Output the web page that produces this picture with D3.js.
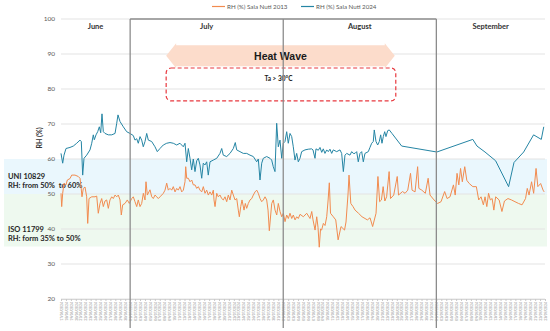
<!DOCTYPE html>
<html>
<head>
<meta charset="utf-8">
<style>
  body { margin: 0; background: #fff; }
  svg { display: block; font-family: Lato, "Open Sans", sans-serif; }
</style>
</head>
<body>
<svg width="550" height="331"></svg>
<script src="https://d3js.org/d3.v7.min.js"></script>
<script>

// period shown on the x axis
var START = new Date(2024, 5, 17),
    END = new Date(2024, 8, 23);

var months = ["June", "July", "August", "September"];
var monthStarts = [new Date(2024, 5, 17), new Date(2024, 6, 1), new Date(2024, 7, 1), new Date(2024, 8, 1), new Date(2024, 8, 23)];

var yTicks = [20, 30, 40, 50, 60, 70, 80, 90, 100];

var seriesNames = ["RH (%) Sala Nuti 2013", "RH (%) Sala Nuti 2024"];

// days elapsed since 17/06 and relative humidity, 2013
var days2013 = [0.00, 0.14, 0.34, 0.61, 1.01, 1.28, 1.82, 2.17, 2.84, 3.50, 3.85, 4.05, 4.25, 4.52, 4.86, 5.20, 5.41, 5.67, 6.22, 6.89,
  7.23, 7.55, 7.90, 8.24, 8.57, 8.91, 9.25, 9.58, 9.92, 10.27, 10.59, 10.94, 11.28, 11.60, 11.95, 12.21, 12.49, 12.96, 13.43, 13.83,
  14.32, 14.64, 14.98, 15.33, 15.65, 16.00, 16.34, 16.67, 17.01, 17.21, 17.48, 18.02, 18.37, 18.69, 19.04, 19.38, 19.70, 20.05, 20.39, 20.72,
  21.06, 21.40, 21.73, 22.07, 22.42, 22.74, 23.09, 23.43, 23.75, 24.10, 24.44, 24.77, 25.11, 25.25, 25.45, 25.78, 26.12, 26.47, 26.79, 27.14,
  27.48, 27.80, 28.15, 28.49, 28.82, 29.16, 29.50, 29.83, 30.17, 30.52, 30.84, 30.98, 31.19, 31.53, 31.85, 32.20, 32.54, 32.87, 33.21, 33.55,
  33.88, 34.22, 34.57, 34.89, 35.24, 35.58, 35.90, 36.11, 36.39, 36.65, 37.06, 37.32, 37.60, 37.93, 38.27, 38.62, 38.94, 39.29, 39.63, 39.95,
  40.30, 40.64, 40.97, 41.31, 41.65, 41.92, 42.18, 42.46, 42.67, 42.99, 43.34, 43.68, 44.00, 44.35, 44.69, 45.02, 45.36, 45.70, 46.03, 46.37,
  46.72, 47.04, 47.39, 47.73, 48.05, 48.40, 49.07, 49.75, 50.42, 50.77, 51.03, 51.44, 51.78, 52.04, 52.29, 52.55, 52.77, 53.12, 53.46, 53.80,
  54.07, 54.33, 54.57, 55.14, 55.63, 56.11, 56.70, 57.41, 57.71, 58.12, 58.32, 58.68, 59.13, 59.54, 60.24, 60.95, 61.56, 62.03, 62.57, 63.10,
  63.79, 64.17, 64.52, 64.88, 65.23, 65.57, 65.93, 66.44, 66.72, 67.37, 68.08, 68.34, 69.15, 69.66, 70.21, 70.77, 71.08, 71.69, 72.21, 72.46,
  73.06, 73.77, 74.34, 74.72, 75.53, 76.26, 76.95, 77.68, 78.17, 78.77, 79.46, 79.82, 80.19, 80.55, 80.90, 81.26, 81.75, 82.17, 82.66, 83.39,
  84.10, 84.58, 85.05, 85.52, 85.86, 86.22, 86.57, 86.93, 87.30, 87.64, 88.01, 88.71, 89.28, 89.79, 90.50, 91.21, 91.92, 92.64, 93.35, 94.06,
  94.41, 94.77, 95.28, 95.70, 96.19, 96.55, 97.12, 97.61, 97.83];
var rh2013 = [50.2, 46.4, 50.2, 53.1, 52.6, 54.0, 54.4, 55.4, 55.4, 55.0, 54.5, 52.2, 49.2, 51.6, 52.0, 49.2, 41.6, 48.7, 49.2, 49.2,
  49.4, 44.5, 47.3, 48.7, 46.4, 48.0, 48.3, 45.9, 48.3, 49.2, 48.7, 49.7, 49.2, 49.7, 48.3, 44.0, 46.9, 47.3, 48.3, 47.3,
  48.7, 49.2, 47.8, 46.4, 48.3, 46.4, 47.3, 50.2, 48.3, 53.5, 49.7, 51.2, 49.2, 48.7, 49.7, 49.2, 48.7, 49.2, 49.7, 50.2,
  51.1, 53.1, 51.1, 51.6, 51.1, 52.1, 50.6, 51.6, 51.1, 52.1, 50.6, 51.1, 53.5, 57.8, 54.5, 54.5, 53.5, 54.0, 52.6, 52.6,
  51.6, 52.1, 51.1, 50.6, 52.1, 50.2, 51.1, 49.7, 50.6, 49.7, 51.1, 48.3, 46.4, 50.2, 49.2, 49.7, 48.7, 48.3, 49.2, 47.8,
  49.7, 48.3, 51.1, 49.7, 48.3, 48.7, 45.4, 43.5, 46.4, 48.3, 45.4, 47.3, 45.9, 47.3, 48.3, 48.7, 49.7, 50.6, 51.1, 50.2,
  48.7, 47.8, 48.3, 49.2, 48.3, 45.4, 39.5, 44.0, 47.3, 48.3, 45.4, 44.0, 47.3, 45.0, 43.5, 44.5, 42.1, 44.0, 43.0, 44.5,
  43.0, 44.0, 42.6, 43.5, 43.0, 44.2, 43.5, 44.5, 43.0, 45.0, 42.6, 39.7, 43.5, 40.5, 34.8, 40.0, 39.7, 41.6, 41.0, 43.5,
  48.0, 53.2, 44.5, 43.5, 42.6, 36.9, 40.7, 39.7, 42.0, 50.0, 55.4, 47.3, 46.4, 45.4, 44.5, 43.5, 43.0, 42.6, 43.2, 40.7,
  44.5, 55.0, 47.8, 48.3, 52.1, 48.0, 49.2, 56.4, 48.7, 49.7, 55.0, 49.7, 50.7, 50.2, 51.1, 55.9, 51.1, 50.6, 57.8, 51.6,
  51.1, 50.2, 54.5, 49.7, 48.3, 47.3, 47.8, 50.7, 48.7, 49.2, 52.6, 49.7, 55.9, 52.6, 57.3, 53.5, 57.8, 53.9, 53.0, 52.1,
  52.1, 48.3, 49.2, 46.9, 49.2, 46.4, 50.2, 48.3, 48.7, 45.4, 49.2, 48.3, 45.0, 48.0, 48.7, 48.3, 47.8, 47.3, 46.9, 48.7,
  51.6, 49.7, 53.5, 50.2, 57.3, 52.1, 53.0, 51.1, 50.6];

// days elapsed since 17/06 and relative humidity, 2024
var days2024 = [0.00, 0.34, 0.61, 1.01, 1.82, 2.49, 3.18, 3.85, 4.11, 4.39, 4.66, 5.20, 5.87, 6.22, 6.54, 6.74, 7.09, 7.43, 7.76, 8.04,
  8.30, 8.57, 8.91, 9.58, 10.27, 10.94, 11.28, 11.54, 11.95, 12.62, 13.30, 13.97, 14.64, 14.98, 15.33, 15.65, 16.00, 16.34, 16.66, 17.01,
  17.35, 17.68, 18.36, 19.03, 19.50, 20.04, 20.71, 21.40, 22.07, 22.74, 23.43, 24.09, 24.76, 25.11, 25.45, 25.78, 26.12, 26.46, 26.79, 27.13,
  27.48, 27.80, 28.14, 28.49, 28.81, 29.16, 29.50, 29.82, 30.17, 30.84, 31.53, 32.19, 32.54, 32.86, 33.55, 34.22, 34.89, 35.29, 35.57, 36.24,
  36.91, 37.60, 38.27, 38.94, 39.62, 39.95, 40.29, 40.64, 40.96, 41.65, 42.32, 42.66, 42.98, 43.33, 43.67, 44.00, 44.34, 44.69, 45.01, 45.35,
  45.70, 46.02, 46.37, 46.71, 47.03, 47.38, 47.72, 48.05, 48.39, 48.73, 49.40, 50.07, 50.76, 51.02, 51.43, 51.63, 52.10, 52.44, 52.79, 53.11,
  53.45, 53.80, 54.12, 54.46, 54.81, 55.13, 55.82, 56.49, 56.83, 57.17, 57.50, 57.85, 58.51, 58.86, 59.18, 59.53, 59.87, 60.19, 60.54, 60.88,
  61.21, 61.55, 62.22, 62.56, 62.91, 63.23, 63.43, 63.78, 64.12, 64.45, 64.73, 64.99, 65.26, 65.54, 65.80, 66.15, 66.47, 67.02, 68.98, 76.10,
  83.38, 84.23, 85.85, 88.00, 90.63, 91.72, 93.68, 95.69, 97.25, 97.75];
var rh2024 = [61.6, 58.8, 61.1, 63.0, 63.3, 63.7, 64.5, 65.4, 65.0, 55.4, 60.2, 61.1, 62.6, 64.5, 66.9, 65.5, 66.9, 67.8, 69.2, 67.5,
  72.9, 67.8, 67.3, 66.9, 66.9, 67.3, 70.2, 72.6, 70.7, 69.2, 67.8, 67.3, 66.7, 65.4, 65.8, 64.5, 66.4, 65.4, 63.5, 65.0,
  67.3, 65.4, 65.0, 63.5, 62.1, 63.0, 64.0, 64.5, 64.7, 64.5, 64.0, 64.5, 63.5, 64.5, 59.2, 63.0, 60.2, 56.9, 60.0, 56.4,
  59.5, 60.2, 58.3, 54.5, 58.8, 58.3, 59.2, 55.4, 59.2, 59.7, 60.2, 61.6, 63.0, 61.1, 60.7, 61.6, 63.0, 64.7, 62.6, 62.1,
  61.6, 61.6, 61.1, 60.7, 59.2, 60.0, 54.0, 58.8, 60.2, 60.7, 60.2, 59.7, 57.8, 56.4, 70.2, 63.5, 65.4, 60.2, 64.5, 65.0,
  67.8, 64.5, 67.3, 66.4, 63.5, 59.7, 61.6, 59.2, 60.2, 62.1, 62.6, 62.8, 62.9, 62.6, 60.2, 62.9, 62.5, 63.3, 61.9, 62.9,
  61.6, 62.6, 62.1, 62.8, 61.6, 62.6, 62.1, 62.6, 61.6, 56.4, 61.1, 61.6, 61.1, 62.1, 61.6, 61.6, 62.1, 59.2, 61.6, 62.1,
  59.2, 61.6, 62.1, 63.3, 64.5, 65.0, 68.3, 65.0, 64.0, 65.0, 66.9, 64.5, 66.4, 67.8, 66.4, 68.1, 68.3, 67.3, 63.7, 62.0,
  65.6, 63.7, 62.0, 59.5, 52.1, 59.0, 62.0, 66.9, 65.6, 69.2];

// comfort ranges shown as bands
var bandNames = ["UNI 10829", "ISO 11799"];
var bandRanges = [[50, 60], [35, 50]];
var bandTexts = ["RH: from 50%  to 60%", "RH: form 35% to 50%"];

// heat wave period (Ta > 30°C)
var heatWave = [new Date(2024, 6, 8, 7), new Date(2024, 7, 23, 14)];

var svg = d3.select("svg");

var x = d3.scaleTime()
    .domain([START, END])
    .range([61, 545]);

var y = d3.scaleLinear()
    .domain([20, 100])
    .range([299, 19]);

function toDate(d) { return d3.timeMinute.offset(START, Math.round(d * 1440)); }

var data2013 = days2013.map(function(d, i) { return { date: toDate(d), v: rh2013[i] }; });
var data2024 = days2024.map(function(d, i) { return { date: toDate(d), v: rh2024[i] }; });

// bands
var bandColors = ["#eaf7fd", "#eef9ef"];
svg.append("g").selectAll("rect")
  .data(bandRanges)
  .enter().append("rect")
    .attr("x", 4)
    .attr("width", 543)
    .attr("y", function(d) { return y(d[1]); })
    .attr("height", function(d) { return y(d[0]) - y(d[1]); })
    .attr("fill", function(d, i) { return bandColors[i]; });

// grid
svg.append("g").selectAll("line")
  .data(yTicks)
  .enter().append("line")
    .attr("x1", 61).attr("x2", 545)
    .attr("y1", function(d) { return y(d); })
    .attr("y2", function(d) { return y(d); })
    .attr("stroke", "#e4e4e4")
    .attr("stroke-width", 1.2);

svg.append("g").selectAll("text")
  .data(yTicks)
  .enter().append("text")
    .attr("x", 55)
    .attr("y", function(d) { return y(d); })
    .attr("dy", "0.35em")
    .attr("text-anchor", "end")
    .attr("font-size", 6.5)
    .attr("fill", "#595959")
    .text(function(d) { return d; });

// x axis, one label per day
var xAxis = svg.append("g")
    .attr("transform", "translate(0," + y(20) + ")")
    .call(d3.axisBottom(x)
      .tickValues(d3.timeDay.range(START, d3.timeDay.offset(END, 1)))
      .tickSize(2)
      .tickFormat(d3.timeFormat("%d/%m/%Y")));
xAxis.select(".domain").attr("stroke", "#d6d6d6");
xAxis.selectAll(".tick line").attr("stroke", "#c8c8c8");
xAxis.selectAll(".tick text")
    .attr("font-family", "Lato, sans-serif")
    .attr("font-size", 3.4)
    .attr("fill", "#8c8c8c")
    .attr("text-anchor", "end")
    .attr("transform", "rotate(-90)")
    .attr("x", -3)
    .attr("y", 0)
    .attr("dy", "0.35em");

// band labels
bandNames.forEach(function(name, i) {
  var base = y(bandRanges[i][0]) - 6;
  svg.append("text")
      .attr("x", 8).attr("y", base - 9)
      .attr("font-size", 7.5).attr("font-weight", "bold").attr("fill", "#262626")
      .text(name);
  svg.append("text")
      .attr("x", 8).attr("y", base)
      .attr("font-size", 7.5).attr("font-weight", "bold").attr("fill", "#262626")
      .style("white-space", "pre")
      .text(bandTexts[i]);
});

// series
var line = d3.line()
    .x(function(d) { return x(d.date); })
    .y(function(d) { return y(d.v); });

var colors = ["#f28b4f", "#2585a4"];

svg.append("path")
    .datum(data2024)
    .attr("fill", "none")
    .attr("stroke", colors[1])
    .attr("stroke-width", 1)
    .attr("stroke-linejoin", "round")
    .attr("d", line);

svg.append("path")
    .datum(data2013)
    .attr("fill", "none")
    .attr("stroke", colors[0])
    .attr("stroke-width", 1)
    .attr("stroke-linejoin", "round")
    .attr("d", line);

// heat wave arrow
var hx0 = x(heatWave[0]), hx1 = x(heatWave[1]),
    arrTop = y(92.5), arrBot = y(86.5), arrMid = (arrTop + arrBot) / 2, head = 10;
svg.append("path")
    .attr("d", d3.line()([
      [hx0, arrMid], [hx0 + head, arrTop - 2], [hx0 + head, arrTop], [hx1 - head, arrTop], [hx1 - head, arrTop - 2],
      [hx1, arrMid], [hx1 - head, arrBot + 2], [hx1 - head, arrBot], [hx0 + head, arrBot], [hx0 + head, arrBot + 2]
    ]) + "Z")
    .attr("fill", "#fcdccb");

svg.append("text")
    .attr("x", (hx0 + hx1) / 2)
    .attr("y", arrMid + 4)
    .attr("text-anchor", "middle")
    .attr("font-family", "Liberation Sans, Arial, sans-serif")
    .attr("font-size", 10.5)
    .attr("font-weight", "bold")
    .attr("fill", "#1a1a1a")
    .text("Heat Wave");

svg.append("rect")
    .attr("x", hx0).attr("width", hx1 - hx0 + 1)
    .attr("y", y(86)).attr("height", y(76.6) - y(86))
    .attr("rx", 5)
    .attr("fill", "none")
    .attr("stroke", "#e8393f")
    .attr("stroke-width", 1.2)
    .attr("stroke-dasharray", "4 2.5");

svg.append("text")
    .attr("x", (hx0 + hx1) / 2 - 2)
    .attr("y", y(86) + 13)
    .attr("text-anchor", "middle")
    .attr("font-size", 6.5)
    .attr("font-weight", "bold")
    .attr("fill", "#1a1a1a")
    .text("Ta > 30°C");

// month frame
var xs = monthStarts.map(x);
svg.append("line")
    .attr("x1", xs[1]).attr("x2", xs[3])
    .attr("y1", y(100)).attr("y2", y(100))
    .attr("stroke", "#8c8c8c").attr("stroke-width", 1.3);
svg.append("g").selectAll("line")
  .data(xs.slice(1, 4))
  .enter().append("line")
    .attr("x1", function(d) { return d; })
    .attr("x2", function(d) { return d; })
    .attr("y1", y(100)).attr("y2", 328)
    .attr("stroke", "#8c8c8c").attr("stroke-width", 1.3);

svg.append("g").selectAll("text")
  .data(months)
  .enter().append("text")
    .attr("x", function(d, i) { return (xs[i] + xs[i + 1]) / 2; })
    .attr("y", 29)
    .attr("text-anchor", "middle")
    .attr("font-size", 7.5)
    .attr("font-weight", "bold")
    .attr("fill", "#333")
    .text(function(d) { return d; });

// y title
svg.append("text")
    .attr("transform", "translate(42," + y(66) + ") rotate(-90)")
    .attr("text-anchor", "middle")
    .attr("font-size", 7)
    .attr("font-weight", "bold")
    .attr("fill", "#333")
    .text("RH (%)");

// legend
var legendX = [212, 301];
seriesNames.forEach(function(name, i) {
  svg.append("line")
      .attr("x1", legendX[i]).attr("x2", legendX[i] + 13)
      .attr("y1", 6.5).attr("y2", 6.5)
      .attr("stroke", colors[i]).attr("stroke-width", 1.2);
  svg.append("text")
      .attr("x", legendX[i] + 15).attr("y", 8.8)
      .attr("font-size", 6.2)
      .attr("fill", "#595959")
      .text(name);
});

</script>
</body>
</html>
